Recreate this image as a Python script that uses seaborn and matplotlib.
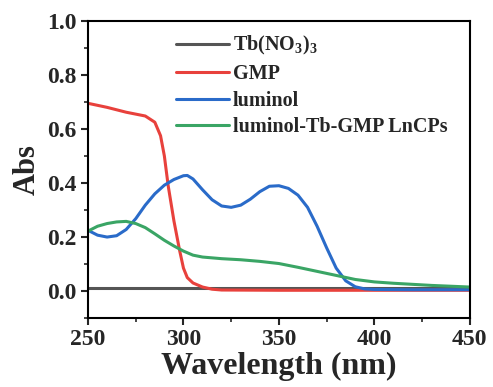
import numpy as np
import pandas as pd
import matplotlib
matplotlib.use("Agg")
import matplotlib.pyplot as plt
import seaborn as sns
from matplotlib.ticker import MultipleLocator

sns.set_style("ticks")
plt.rcParams['font.family'] = ['Liberation Serif', 'DejaVu Serif']
plt.rcParams['font.weight'] = 'bold'
plt.rcParams['mathtext.fontset'] = 'custom'
plt.rcParams['mathtext.rm'] = 'Liberation Serif:bold'
plt.rcParams['mathtext.bf'] = 'Liberation Serif:bold'

series_names = ["Tb(NO$_3$)$_3$", "GMP", "luminol", "luminol-Tb-GMP LnCPs"]
series_colors = ["#555555", "#e8413c", "#2a6bc9", "#3aa565"]

tb_wl = [250, 450]
tb_abs = [0.012, 0.012]

gmp_wl = [250, 260, 270, 280, 285, 288, 290, 292, 295, 298, 300, 302, 305, 310, 315, 320, 350, 400, 450]
gmp_abs = [0.695, 0.68, 0.662, 0.648, 0.625, 0.575, 0.50, 0.39, 0.26, 0.15, 0.085, 0.05, 0.03, 0.015, 0.007, 0.004, 0.003, 0.003, 0.003]

lum_wl = [250, 255, 260, 265, 270, 275, 280, 285, 290, 295, 300, 302, 305, 310, 315, 320, 325, 330, 335, 340, 345, 350,
          355, 360, 365, 370, 375, 380, 385, 390, 395, 400, 420, 450]
lum_abs = [0.225, 0.207, 0.200, 0.205, 0.228, 0.268, 0.318, 0.36, 0.392, 0.413, 0.427, 0.428, 0.415, 0.375, 0.338, 0.315,
           0.31, 0.318, 0.34, 0.368, 0.388, 0.39, 0.38, 0.355, 0.31, 0.24, 0.16, 0.085, 0.038, 0.016, 0.008, 0.006, 0.005, 0.005]

lnc_wl = [250, 255, 260, 265, 270, 275, 280, 285, 290, 295, 300, 305, 310, 320, 330, 340, 350, 360, 370, 380, 390, 400,
          410, 420, 430, 440, 450]
lnc_abs = [0.222, 0.24, 0.25, 0.256, 0.258, 0.25, 0.235, 0.212, 0.188, 0.167, 0.148, 0.133, 0.126, 0.12, 0.116, 0.11,
           0.102, 0.088, 0.073, 0.058, 0.043, 0.034, 0.029, 0.025, 0.021, 0.018, 0.015]

frames = []
for name, wl, ab in zip(series_names, [tb_wl, gmp_wl, lum_wl, lnc_wl], [tb_abs, gmp_abs, lum_abs, lnc_abs]):
    frames.append(pd.DataFrame({"Wavelength": wl, "Abs": ab, "Sample": name}))
df = pd.concat(frames, ignore_index=True)

fig = plt.figure(figsize=(4.93, 3.87), dpi=100)
ax = fig.add_axes([0.1785, 0.178, 0.7745, 0.768])
sns.lineplot(data=df, x="Wavelength", y="Abs", hue="Sample", hue_order=series_names,
             palette=dict(zip(series_names, series_colors)), linewidth=2.2, ax=ax, sort=False)

ax.set_xlim(250, 450)
ax.set_ylim(-0.1, 1.0)
ax.xaxis.set_major_locator(MultipleLocator(50))
ax.xaxis.set_minor_locator(MultipleLocator(25))
ax.yaxis.set_minor_locator(MultipleLocator(0.1))
ax.set_yticks([0.0, 0.2, 0.4, 0.6, 0.8, 1.0])
ax.set_yticklabels(["0.0", "0.2", "0.4", "0.6", "0.8", "1.0"])
ax.tick_params(axis='both', which='major', direction='out', length=5, width=1.5, labelsize=17, pad=3)
ax.tick_params(axis='both', which='minor', direction='out', length=3, width=1.2)
for s in ax.spines.values():
    s.set_linewidth(1.5)
    s.set_color('black')
ax.set_xlabel("Wavelength (nm)", fontsize=23, fontweight='bold', labelpad=1)
ax.set_ylabel("Abs", fontsize=22, fontweight='bold', labelpad=4)
for lbl in ax.get_xticklabels() + ax.get_yticklabels():
    lbl.set_fontweight('bold')

ax.legend(loc='upper left', bbox_to_anchor=(0.2, 0.995), frameon=False,
          handlelength=2.6, handletextpad=0.2, labelspacing=0.33, borderaxespad=0.2,
          prop={'weight': 'bold', 'size': 14.5})
fig.savefig("out.png", dpi=100)
